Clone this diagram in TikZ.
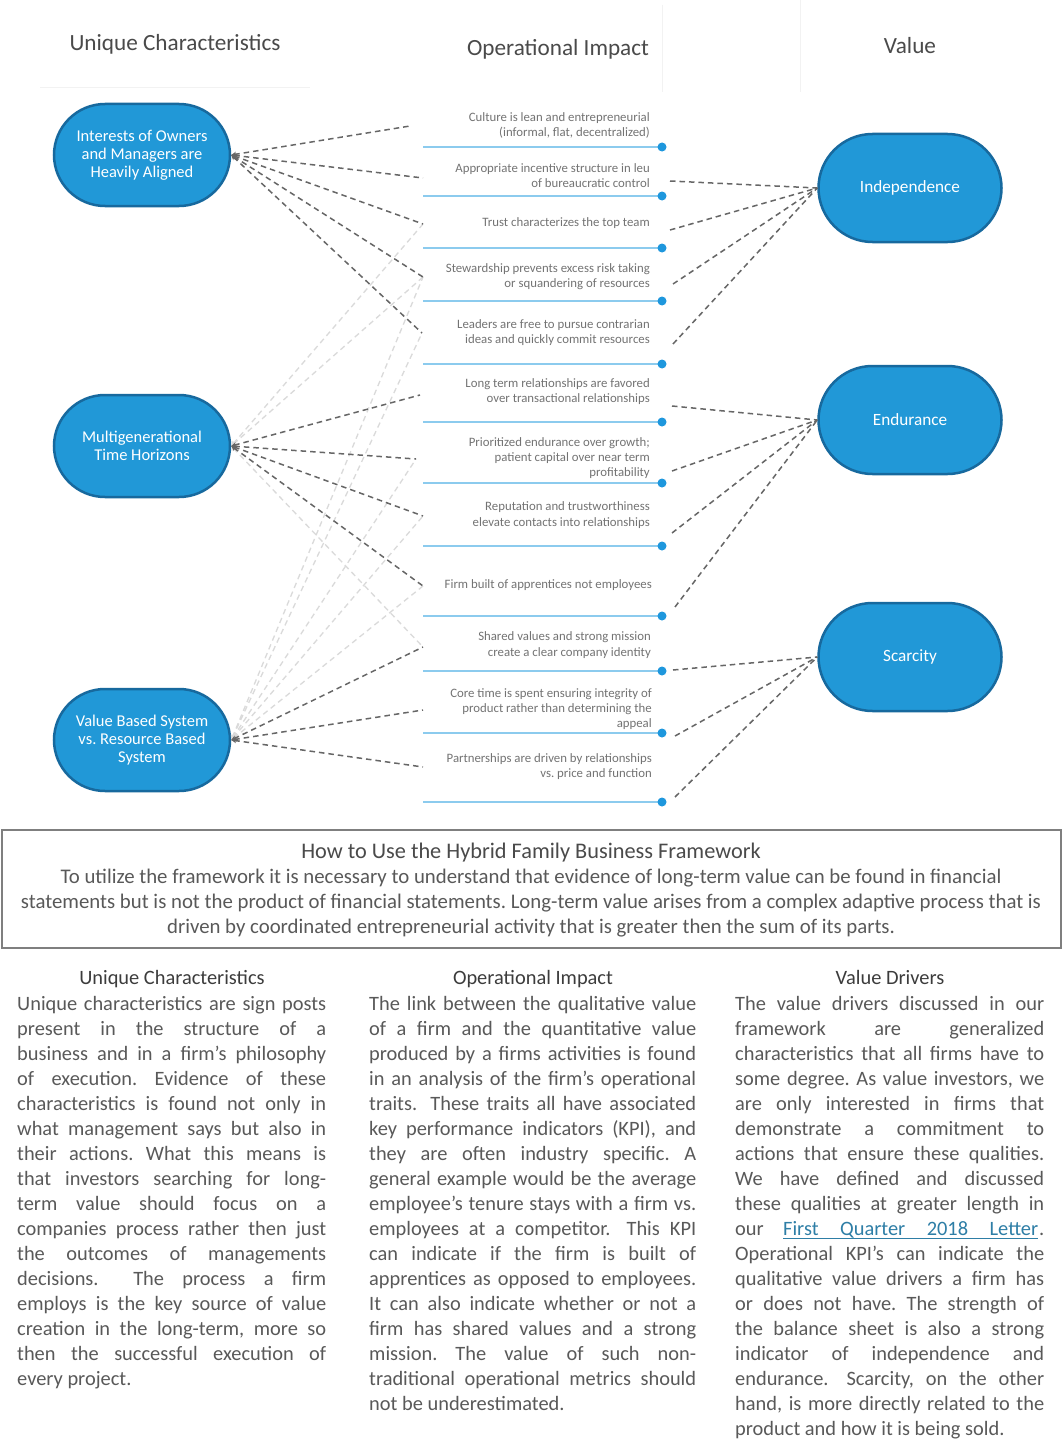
\documentclass[tikz,border=0pt]{standalone}
\usepackage{fontspec}
\setmainfont{Carlito}
\usetikzlibrary{arrows.meta}
\frenchspacing
\definecolor{nodefill}{HTML}{2198D7}
\definecolor{nodeline}{HTML}{17699E}
\definecolor{itemline}{HTML}{8CCBEE}
\definecolor{dotblue}{HTML}{1E97DD}
\definecolor{dashdark}{HTML}{666666}
\definecolor{dashlight}{HTML}{DADADA}
\definecolor{itemtext}{HTML}{737373}
\definecolor{headtext}{HTML}{4A4A4A}
\definecolor{colheadtext}{HTML}{3C3C3C}
\definecolor{bodytext}{HTML}{595959}
\definecolor{linkblue}{HTML}{2E7EA6}
\definecolor{boxgrey}{HTML}{7F7F7F}
\definecolor{faintgrey}{HTML}{F2F2F2}
\tikzset{
  pillL/.style={draw=nodeline, line width=2.5pt, fill=nodefill, rounded corners=51pt,
    minimum width=176pt, minimum height=102pt, inner sep=0pt, text=white, align=center,
    font=\fontsize{16.5}{18}\selectfont},
  pillR/.style={draw=nodeline, line width=2.5pt, fill=nodefill, rounded corners=54pt,
    minimum width=183pt, minimum height=108pt, inner sep=0pt, text=white, align=center,
    font=\fontsize{17.2}{20}\selectfont},
  itemrule/.style={draw=itemline, line width=1.8pt},
  itemdot/.style={circle, fill=dotblue, inner sep=0pt, minimum size=9pt},
  itemtxt/.style={anchor=base east, inner sep=0pt, text=itemtext, font=\fontsize{12.8}{15}\selectfont},
  dk/.style={draw=dashdark, line width=1.5pt, dash pattern=on 5.5pt off 4pt},
  lt/.style={draw=dashlight, line width=1.3pt, dash pattern=on 5.5pt off 4pt},
  tipL/.style={{Stealth[length=5pt,width=5pt]}-},
  header/.style={anchor=base, inner sep=0pt, text=headtext, font=\fontsize{23.2}{27}\selectfont},
  boxtitle/.style={anchor=base, inner sep=0pt, text=headtext, font=\fontsize{22.3}{27}\selectfont},
  boxtxt/.style={anchor=base, inner sep=0pt, text=bodytext, font=\fontsize{20.8}{25}\selectfont},
  colhead/.style={anchor=base, inner sep=0pt, text=colheadtext, font=\fontsize{20.4}{25}\selectfont},
  jtext/.style={anchor=base west, inner sep=0pt, text=bodytext, font=\fontsize{20.4}{25}\selectfont},
}
\newcommand\jl[5]{\node[jtext] (#1) at (#2,#3) {\makebox[#4pt][s]{#5}};}
\newcommand\fl[4]{\node[jtext] (#1) at (#2,#3) {#4};}
\begin{document}
\begin{tikzpicture}[x=1pt,y=-1pt]
\useasboundingbox (0,0) rectangle (1061,1453);
\fill[white] (0,0) rectangle (1061,1453);

% faint header frames
\draw[faintgrey, line width=1pt] (40,88) -- (310,88);
\draw[faintgrey, line width=1pt] (662,5) -- (662,92);
\draw[faintgrey, line width=1pt] (800,0) -- (800,92);

% headers
\node[header] (h1) at (175,51) {Unique Characteristics};
\node[header] (h2) at (558,56) {Operational Impact};
\node[header] (h3) at (910,54) {Value};

% item rules and dots
\foreach \y [count=\i] in {147,196,248,301,364,422,483,546,616,671,733,802}{
  \draw[itemrule] (423,\y) -- (662,\y);
  \node[itemdot] (dot\i) at (662,\y) {};
}

% item texts
\node[itemtxt] (t1a) at (650,121.5) {Culture is lean and entrepreneurial};
\node[itemtxt] (t1b) at (650,136.5) {(informal, flat, decentralized)};
\node[itemtxt] (t2a) at (650,172) {Appropriate incentive structure in leu};
\node[itemtxt] (t2b) at (650,187.5) {of bureaucratic control};
\node[itemtxt] (t3a) at (650,226) {Trust characterizes the top team};
\node[itemtxt] (t4a) at (650,272) {Stewardship prevents excess risk taking};
\node[itemtxt] (t4b) at (650,287.5) {or squandering of resources};
\node[itemtxt] (t5a) at (650,328) {Leaders are free to pursue contrarian};
\node[itemtxt] (t5b) at (650,343) {ideas and quickly commit resources};
\node[itemtxt] (t6a) at (650,387.5) {Long term relationships are favored};
\node[itemtxt] (t6b) at (650,402.5) {over transactional relationships};
\node[itemtxt] (t7a) at (650,446) {Prioritized endurance over growth;};
\node[itemtxt] (t7b) at (650,461) {patient capital over near term};
\node[itemtxt] (t7c) at (650,476) {profitability};
\node[itemtxt] (t8a) at (650,510.5) {Reputation and trustworthiness};
\node[itemtxt] (t8b) at (650,526) {elevate contacts into relationships};
\node[itemtxt] (t9a) at (652,588) {Firm built of apprentices not employees};
\node[itemtxt] (t10a) at (651,640.5) {Shared values and strong mission};
\node[itemtxt] (t10b) at (651,656) {create a clear company identity};
\node[itemtxt] (t11a) at (652,697) {Core time is spent ensuring integrity of};
\node[itemtxt] (t11b) at (652,712.5) {product rather than determining the};
\node[itemtxt] (t11c) at (652,727) {appeal};
\node[itemtxt] (t12a) at (652,762.5) {Partnerships are driven by relationships};
\node[itemtxt] (t12b) at (652,777.5) {vs. price and function};

% connector end points at items
\coordinate (a1) at (410,126);
\coordinate (a2) at (423,178);
\coordinate (a3) at (423,224);
\coordinate (a4) at (423,277);
\coordinate (a5) at (422,333);
\coordinate (a6) at (420,395);
\coordinate (a7) at (416,459);
\coordinate (a8) at (423,516);
\coordinate (a9) at (423,586);
\coordinate (a10) at (423,647);
\coordinate (a11) at (423,710);
\coordinate (a12) at (423,767);
\coordinate (b2) at (670,181);
\coordinate (b3) at (670,230);
\coordinate (b4) at (673,284);
\coordinate (b5) at (673,344);
\coordinate (b6) at (672,406);
\coordinate (b7) at (672,471);
\coordinate (b8) at (672,533);
\coordinate (b9) at (675,607);
\coordinate (b10) at (673,670);
\coordinate (b11) at (675,736);
\coordinate (b12) at (675,797);

% left nodes
\node[pillL] (u1) at (142,155) {Interests of Owners\\and Managers are\\Heavily Aligned};
\node[pillL] (u2) at (142,446) {Multigenerational\\Time Horizons};
\node[pillL] (u3) at (142,740) {Value Based System\\vs. Resource Based\\System};

% right nodes
\node[pillR] (v1) at (910,188) {Independence};
\node[pillR] (v2) at (910,420) {Endurance};
\node[pillR] (v3) at (910,657) {Scarcity};

% light secondary connectors
\foreach \t in {a3,a4,a10} \draw[lt,tipL] (u2.east) -- (\t);
\foreach \t in {a4,a5,a7,a8,a9} \draw[lt,tipL] (u3.east) -- (\t);

% dark connectors to left nodes
\foreach \t in {a1,a2,a3,a4,a5} \draw[dk,tipL] (u1.east) -- (\t);
\foreach \t in {a6,a7,a8,a9} \draw[dk,tipL] (u2.east) -- (\t);
\foreach \t in {a10,a11,a12} \draw[dk,tipL] (u3.east) -- (\t);

% dark connectors to right nodes
\foreach \t in {b2,b3,b4,b5} \draw[dk] (\t) -- (v1.west);
\foreach \t in {b6,b7,b8,b9} \draw[dk] (\t) -- (v2.west);
\foreach \t in {b10,b11,b12} \draw[dk] (\t) -- (v3.west);

% box
\node[draw=boxgrey, line width=1.5pt, minimum width=1059pt, minimum height=118pt, anchor=north west, inner sep=0pt] (box) at (1,829) {};
\node[boxtitle] (bt) at (531,858) {How to Use the Hybrid Family Business Framework};
\node[boxtxt] (bl1) at (531,883) {To utilize the framework it is necessary to understand that evidence of long-term value can be found in financial};
\node[boxtxt] (bl2) at (531,908) {statements but is not the product of financial statements. Long-term value arises from a complex adaptive process that is};
\node[boxtxt] (bl3) at (531,933) {driven by coordinated entrepreneurial activity that is greater then the sum of its parts.};

% column headings
\node[colhead] (ch1) at (172,984) {Unique Characteristics};
\node[colhead] (ch2) at (533,984) {Operational Impact};
\node[colhead] (ch3) at (890,984) {Value Drivers};

% column 1
\jl{c1a}{17}{1010}{309}{Unique characteristics are sign posts}
\jl{c1b}{17}{1035}{309}{present in the structure of a}
\jl{c1c}{17}{1060}{309}{business and in a firm’s philosophy}
\jl{c1d}{17}{1085}{309}{of execution. Evidence of these}
\jl{c1e}{17}{1110}{309}{characteristics is found not only in}
\jl{c1f}{17}{1135}{309}{what management says but also in}
\jl{c1g}{17}{1160}{309}{their actions. What this means is}
\jl{c1h}{17}{1185}{309}{that investors searching for long-}
\jl{c1i}{17}{1210}{309}{term value should focus on a}
\jl{c1j}{17}{1235}{309}{companies process rather then just}
\jl{c1k}{17}{1260}{309}{the outcomes of managements}
\jl{c1l}{17}{1285}{309}{decisions.\hspace{0.8em} The process a firm}
\jl{c1m}{17}{1310}{309}{employs is the key source of value}
\jl{c1n}{17}{1335}{309}{creation in the long-term, more so}
\jl{c1o}{17}{1360}{309}{then the successful execution of}
\fl{c1p}{17}{1385}{every project.}

% column 2
\jl{c2a}{369}{1010}{327}{The link between the qualitative value}
\jl{c2b}{369}{1035}{327}{of a firm and the quantitative value}
\jl{c2c}{369}{1060}{327}{produced by a firms activities is found}
\jl{c2d}{369}{1085}{327}{in an analysis of the firm’s operational}
\jl{c2e}{369}{1110}{327}{traits.\hspace{0.3em} These traits all have associated}
\jl{c2f}{369}{1135}{327}{key performance indicators (KPI), and}
\jl{c2g}{369}{1160}{327}{they are often industry specific. A}
\jl{c2h}{369}{1185}{327}{general example would be the average}
\jl{c2i}{369}{1210}{327}{employee’s tenure stays with a firm vs.}
\jl{c2j}{369}{1235}{327}{employees at a competitor.\hspace{0.3em} This KPI}
\jl{c2k}{369}{1260}{327}{can indicate if the firm is built of}
\jl{c2l}{369}{1285}{327}{apprentices as opposed to employees.}
\jl{c2m}{369}{1310}{327}{It can also indicate whether or not a}
\jl{c2n}{369}{1335}{327}{firm has shared values and a strong}
\jl{c2o}{369}{1360}{327}{mission. The value of such non-}
\jl{c2p}{369}{1385}{327}{traditional operational metrics should}
\fl{c2q}{369}{1410}{not be underestimated.}

% column 3
\jl{c3a}{735}{1010}{309}{The value drivers discussed in our}
\jl{c3b}{735}{1035}{309}{framework are generalized}
\jl{c3c}{735}{1060}{309}{characteristics that all firms have to}
\jl{c3d}{735}{1085}{309}{some degree. As value investors, we}
\jl{c3e}{735}{1110}{309}{are only interested in firms that}
\jl{c3f}{735}{1135}{309}{demonstrate a commitment to}
\jl{c3g}{735}{1160}{309}{actions that ensure these qualities.}
\jl{c3h}{735}{1185}{309}{We have defined and discussed}
\jl{c3i}{735}{1210}{309}{these qualities at greater length in}
\fl{c3j}{735}{1235}{our}
\node[jtext, text=linkblue] (link) at (783,1235) {\makebox[255pt][s]{First Quarter 2018 Letter}};
\draw[linkblue, line width=1pt] (783,1238.5) -- (1038,1238.5);
\fl{c3jb}{1039}{1235}{.}
\jl{c3k}{735}{1260}{309}{Operational KPI’s can indicate the}
\jl{c3l}{735}{1285}{309}{qualitative value drivers a firm has}
\jl{c3m}{735}{1310}{309}{or does not have. The strength of}
\jl{c3n}{735}{1335}{309}{the balance sheet is also a strong}
\jl{c3o}{735}{1360}{309}{indicator of independence and}
\jl{c3p}{735}{1385}{309}{endurance.\hspace{0.3em} Scarcity, on the other}
\jl{c3q}{735}{1410}{309}{hand, is more directly related to the}
\fl{c3r}{735}{1435}{product and how it is being sold.}
\end{tikzpicture}
\end{document}
